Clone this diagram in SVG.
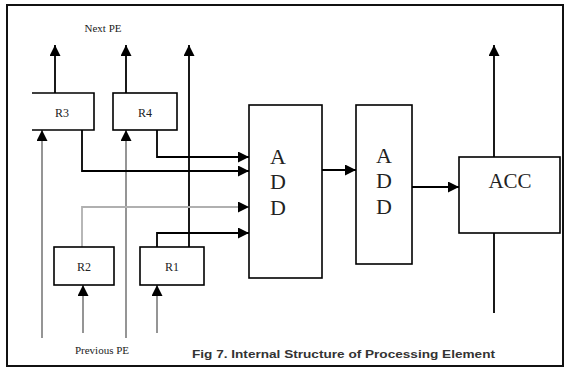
<svg xmlns="http://www.w3.org/2000/svg" width="566" height="369" viewBox="0 0 566 369">
<defs>
<marker id="ah" viewBox="0 0 10 10" refX="10" refY="5" markerWidth="11" markerHeight="11" markerUnits="userSpaceOnUse" orient="auto">
<path d="M0,0 L10,5 L0,10 z" fill="#000"/>
</marker>
<marker id="ahg" viewBox="0 0 10 10" refX="10" refY="5" markerWidth="11" markerHeight="11" markerUnits="userSpaceOnUse" orient="auto">
<path d="M0,0 L10,5 L0,10 z" fill="#000"/>
</marker>
</defs>
<style>
.box{fill:#fff;stroke:#000;stroke-width:1.6}
.w{fill:none;stroke:#000;stroke-width:1.8}
.g{fill:none;stroke:#8a8a8a;stroke-width:1.8}
.lg{fill:none;stroke:#b0b0b0;stroke-width:1.8}
.lbl{font-family:"Liberation Serif",serif;font-size:12px;fill:#222;text-anchor:middle}
.big{font-family:"Liberation Serif",serif;font-size:22px;fill:#222;text-anchor:middle}
.cap{font-family:"Liberation Sans",sans-serif;font-size:11px;font-weight:bold;fill:#333}
</style>
<rect x="7" y="5" width="556" height="361" fill="#fff" stroke="#111" stroke-width="2"/>
<g id="connectors">
<path class="w" d="M55,93 V45" marker-end="url(#ah)"/>
<path class="w" d="M126,93 V45" marker-end="url(#ah)"/>
<path class="w" d="M189,247 V45" marker-end="url(#ah)"/>
<path class="g" d="M42,338 V130" marker-end="url(#ahg)"/>
<path class="g" d="M126,338 V130" marker-end="url(#ahg)"/>
<path class="w" d="M157,130 V157 H249" marker-end="url(#ah)"/>
<path class="w" d="M82,130 V171 H249" marker-end="url(#ah)"/>
<path class="lg" d="M82,247 V207 H249" marker-end="url(#ahg)"/>
<path class="w" d="M157,247 V233 H249" marker-end="url(#ah)"/>
<path class="g" d="M83,333 V285" marker-end="url(#ahg)"/>
<path class="g" d="M157,333 V285" marker-end="url(#ahg)"/>
<path class="w" d="M322,170 H356" marker-end="url(#ah)"/>
<path class="w" d="M412,187 H459" marker-end="url(#ah)"/>
<path class="w" d="M494,157 V45" marker-end="url(#ah)"/>
<path class="w" d="M494,233 V313"/>
</g>
<g id="R3">
<path class="box" d="M32,93 H94 V130 H32"/>
<text class="lbl" x="62" y="117">R3</text>
</g>
<g id="R4">
<rect class="box" x="113" y="93" width="64" height="37"/>
<text class="lbl" x="145" y="117">R4</text>
</g>
<g id="R2">
<rect class="box" x="54" y="247" width="60" height="38"/>
<text class="lbl" x="84" y="271">R2</text>
</g>
<g id="R1">
<rect class="box" x="140" y="247" width="64" height="38"/>
<text class="lbl" x="172" y="271">R1</text>
</g>
<g id="ADD1">
<rect class="box" x="249" y="105" width="73" height="173"/>
<text class="big" x="278" y="164">A</text>
<text class="big" x="278" y="189">D</text>
<text class="big" x="278" y="215">D</text>
</g>
<g id="ADD2">
<rect class="box" x="356" y="105" width="56" height="159"/>
<text class="big" x="384" y="163">A</text>
<text class="big" x="384" y="188">D</text>
<text class="big" x="384" y="214">D</text>
</g>
<g id="ACC">
<rect class="box" x="459" y="157" width="101" height="76"/>
<text class="big" x="510" y="188" style="font-size:21px">ACC</text>
</g>
<text class="lbl" x="103" y="32" style="font-size:11px">Next PE</text>
<text class="lbl" x="102" y="354" style="font-size:11px">Previous PE</text>
<text class="cap" x="192" y="358" textLength="303" lengthAdjust="spacingAndGlyphs">Fig 7. Internal Structure of Processing Element</text>
</svg>
